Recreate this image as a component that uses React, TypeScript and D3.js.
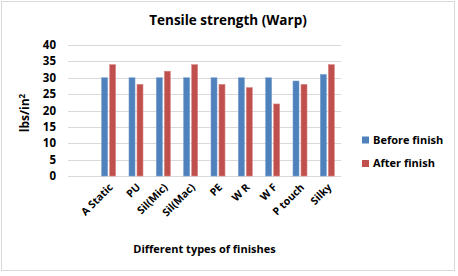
import React from "react";
import * as d3 from "d3";

const categories = ["A Static", "PU", "Sil(Mic)", "Sil(Mac)", "PE", "W R", "W F", "P touch", "Silky"];
const beforeFinish = [30, 30, 30, 30, 30, 30, 30, 29, 31];
const afterFinish = [34, 28, 32, 34, 28, 27, 22, 28, 34];
const seriesNames = ["Before finish", "After finish"];
const yTicks = [0, 5, 10, 15, 20, 25, 30, 35, 40];

const W = 458;
const H = 276;
const colors = ["#4F81BD", "#C0504D"];
const strokes = ["#7BA0D0", "#D88A88"];
const font = "'Open Sans', 'Liberation Sans', sans-serif";

export default function App() {
  const gridLeft = 68;
  const plotRight = 341;
  const x = d3.scaleBand<string>().domain(categories).range([95, plotRight]);
  const y = d3.scaleLinear().domain([0, 40]).range([176, 45]);
  const barW = 6;
  const gap = 2;
  const series = [beforeFinish, afterFinish];

  return (
    <svg width={W} height={H} style={{ position: "absolute", left: 0, top: 0 }} fontFamily={font}>
      <rect x={0} y={0} width={W} height={H} fill="#fff" />
      <rect x={1.5} y={1.5} width={453} height={269} fill="#fff" stroke="#d9d9d9" strokeWidth={1} />
      <text x={228} y={25} textAnchor="middle" fontSize={13.5} fontWeight="bold" fill="#000">
        Tensile strength (Warp)
      </text>
      {yTicks.map((t) => (
        <g key={t}>
          <line x1={gridLeft} x2={plotRight} y1={Math.round(y(t)) + 0.5} y2={Math.round(y(t)) + 0.5} stroke="#d9d9d9" strokeWidth={1} />
          <text x={56} y={y(t)} dy="0.35em" textAnchor="end" fontSize={11.5} fontWeight="bold" fill="#000">
            {t}
          </text>
        </g>
      ))}
      {series.map((vals, si) =>
        vals.map((v, i) => {
          const cx = (x(categories[i]) as number) + x.bandwidth() / 2;
          const bx = si === 0 ? cx - gap / 2 - barW : cx + gap / 2;
          return (
            <rect
              key={`${si}-${i}`}
              x={bx}
              y={y(v)}
              width={barW}
              height={y(0) - y(v)}
              fill={colors[si]}
              stroke={strokes[si]}
              strokeWidth={0.6}
            />
          );
        })
      )}
      {categories.map((c) => {
        const cx = (x(c) as number) + x.bandwidth() / 2;
        return (
          <text
            key={c}
            transform={`translate(${cx + 5},${188}) rotate(-45)`}
            textAnchor="end"
            fontSize={10.5}
            fontWeight="bold"
            fill="#000"
          >
            {c}
          </text>
        );
      })}
      <text x={204.5} y={253} textAnchor="middle" fontSize={11} fontWeight="bold" fill="#000">
        Different types of finishes
      </text>
      <text transform={`translate(29,113) rotate(-90)`} textAnchor="middle" fontSize={12} fontWeight="bold" fill="#000">
        lbs/in
        <tspan dy={-4} fontSize={8}>2</tspan>
      </text>
      {seriesNames.map((s, i) => (
        <g key={s} transform={`translate(362,${140 + i * 23.5})`}>
          <rect x={0} y={-3.5} width={7} height={7} fill={colors[i]} />
          <text x={11} y={0} dy="0.35em" fontSize={11} fontWeight="bold" fill="#000">
            {s}
          </text>
        </g>
      ))}
    </svg>
  );
}
